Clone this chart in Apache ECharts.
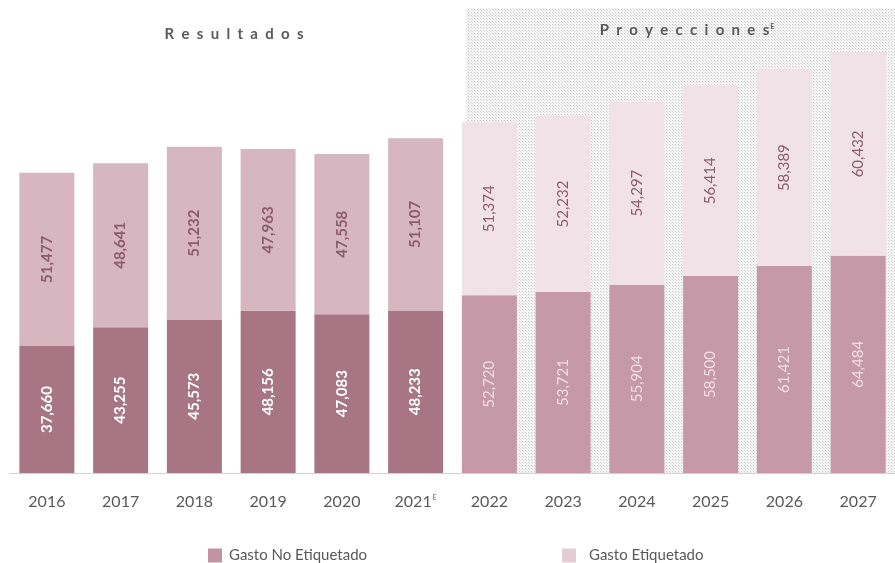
<!DOCTYPE html>
<html>
<head>
<meta charset="utf-8">
<script src="https://cdn.jsdelivr.net/npm/echarts@6/dist/echarts.min.js"></script>
<style>
  html, body { margin: 0; padding: 0; background: #fff; }
  #chart { width: 895px; height: 563px; }
</style>
</head>
<body>
<div id="chart"></div>
<script>
var years = ['2016', '2017', '2018', '2019', '2020', '2021', '2022', '2023', '2024', '2025', '2026', '2027'];
var gastoNoEtiquetado = [37660, 43255, 45573, 48156, 47083, 48233, 52720, 53721, 55904, 58500, 61421, 64484];
var gastoEtiquetado = [51477, 48641, 51232, 47963, 47558, 51107, 51374, 52232, 54297, 56414, 58389, 60432];
var nResultados = 6; // los primeros 6 años son resultados, el resto proyecciones

var font = 'Lato';

// patron punteado para la zona de proyecciones
function dotPattern() {
    var c = document.createElement('canvas');
    c.width = 3; c.height = 3;
    var ctx = c.getContext('2d');
    ctx.fillStyle = '#f4f4f4';
    ctx.fillRect(0, 0, 3, 3);
    ctx.fillStyle = '#cdcdcd';
    ctx.fillRect(0, 0, 1, 1);
    ctx.fillStyle = '#e0e0e0';
    ctx.fillRect(1, 1, 1, 1);
    return c;
}

function fmt(v) {
    return v.toLocaleString('en-US');
}

function spaced(s) {
    return s.split('').join('  ');
}

function buildData(values, colRes, colPro) {
    return values.map(function(v, i) {
        return { value: v, itemStyle: { color: i < nResultados ? colRes : colPro } };
    });
}

var option = {
    animation: false,
    title: [
        {
            text: spaced('Resultados'),
            left: 229, top: 22, textAlign: 'center',
            textStyle: { fontFamily: font, fontSize: 15, fontWeight: 'bold', color: '#5a5a5a' }
        },
        {
            text: spaced('Proyecciones') + '{sup|E}',
            left: 682, top: 18, textAlign: 'center',
            textStyle: {
                fontFamily: font, fontSize: 15, fontWeight: 'bold', color: '#5a5a5a',
                rich: { sup: { fontSize: 7, fontWeight: 'bold', color: '#5a5a5a', verticalAlign: 'top', padding: [0, 0, 8, 1] } }
            }
        }
    ],
    legend: [
        {
            data: ['Gasto No Etiquetado'], left: 203, top: 543,
            itemWidth: 14, itemHeight: 14, itemGap: 10, icon: 'rect',
            textStyle: { fontFamily: font, fontSize: 15, color: '#595959', padding: [0, 0, 0, 2] }
        },
        {
            data: ['Gasto Etiquetado'], left: 557, top: 543,
            itemWidth: 14, itemHeight: 14, itemGap: 10, icon: 'rect',
            textStyle: { fontFamily: font, fontSize: 15, color: '#595959', padding: [0, 0, 0, 8] }
        }
    ],
    graphic: [{
        type: 'rect', z: -10,
        shape: { x: 466, y: 8, width: 440, height: 465 },
        style: { fill: { image: dotPattern(), repeat: 'repeat' } },
        silent: true
    }],
    grid: { left: 10, width: 900, top: 8, bottom: 90 },
    xAxis: {
        type: 'category',
        data: years,
        axisLine: { lineStyle: { color: '#c8c8c8', type: 'dotted', width: 1 } },
        axisTick: { show: false },
        axisLabel: {
            interval: 0,
            fontFamily: font, fontSize: 16, color: '#595959', margin: 21,
            formatter: function(v) {
                return v === '2021' ? v + '{sup|E}' : v;
            },
            rich: { sup: { fontSize: 7, color: '#595959', verticalAlign: 'top', padding: [0, 0, 8, 1] } }
        }
    },
    yAxis: { type: 'value', min: 0, max: 138000, show: false, splitLine: { show: false } },
    series: [
        {
            name: 'Gasto No Etiquetado',
            type: 'bar', stack: 'total', barWidth: 55,
            itemStyle: { color: '#c294a3' },
            data: buildData(gastoNoEtiquetado, '#a87585', '#c599a7'),
            label: {
                show: true, position: 'inside', rotate: 90,
                fontFamily: font, fontSize: 15,
                formatter: function(p) { return p.dataIndex < nResultados ? '{a|' + fmt(p.value) + '}' : '{b|' + fmt(p.value) + '}'; },
                rich: {
                    a: { fontFamily: font, fontSize: 15, fontWeight: 'bold', color: '#ffffff' },
                    b: { fontFamily: font, fontSize: 15, color: '#f1dfe5' }
                }
            }
        },
        {
            name: 'Gasto Etiquetado',
            type: 'bar', stack: 'total', barWidth: 55,
            itemStyle: { color: '#e4ccd4' },
            data: buildData(gastoEtiquetado, '#d6b6c1', '#f0e2e7'),
            label: {
                show: true, position: 'inside', rotate: 90,
                fontFamily: font, fontSize: 15,
                formatter: function(p) { return p.dataIndex < nResultados ? '{a|' + fmt(p.value) + '}' : '{b|' + fmt(p.value) + '}'; },
                rich: {
                    a: { fontFamily: font, fontSize: 15, fontWeight: 'bold', color: '#8c5b6c' },
                    b: { fontFamily: font, fontSize: 15, color: '#8c5b6c' }
                }
            }
        }
    ]
};

var chart = echarts.init(document.getElementById('chart'));
chart.setOption(option);
</script>
</body>
</html>
